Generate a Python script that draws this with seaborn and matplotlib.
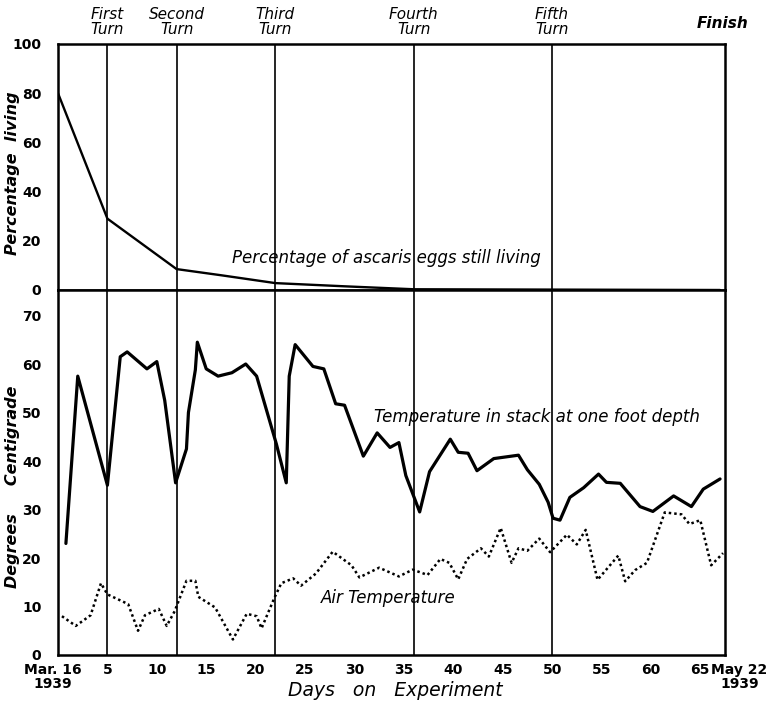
import matplotlib
matplotlib.use("Agg")
import matplotlib.pyplot as plt
import seaborn as sns
import numpy as np
import pandas as pd

# ---------------- data ----------------
pct_day = [0, 5, 12, 16.5, 22, 29, 36, 67]
pct_living = [80, 29, 8.5, 6, 2.8, 1.5, 0.3, 0]

stack_day = [0.8, 2.0, 5.0, 6.3, 7.0, 9.0, 10.0, 10.8, 11.9, 13.0, 13.2, 13.9, 14.1,
             15.0, 16.2, 17.6, 19.0, 20.1, 22.1, 23.1, 23.4, 24.0, 25.8, 26.9, 28.1,
             29.0, 30.9, 32.3, 33.6, 34.5, 35.2, 36.6, 37.6, 39.7, 40.5, 41.5, 42.4,
             44.1, 46.6, 47.5, 48.7, 49.6, 50.1, 50.8, 51.8, 53.2, 54.7, 55.5, 56.9,
             58.9, 60.2, 62.3, 64.1, 65.3, 67.0]
stack_temp = [23, 57.5, 35, 61.5, 62.5, 59, 60.5, 52.5, 35.5, 42.5, 50, 58.8, 64.5,
              59, 57.5, 58.2, 60, 57.5, 43.5, 35.5, 57.5, 64, 59.5, 59, 51.8,
              51.5, 41, 45.8, 42.8, 43.8, 37, 29.5, 37.8, 44.5, 41.8, 41.6, 38,
              40.5, 41.2, 38.2, 35.2, 31.5, 28.2, 27.8, 32.5, 34.5, 37.3, 35.6, 35.4,
              30.6, 29.6, 32.8, 30.6, 34.2, 36.3]

air_day = [0.4, 1.8, 3.3, 4.35, 5.0, 7.1, 8.1, 8.8, 10.2, 11.0, 11.8, 13.0, 13.9, 14.2,
           15.9, 17.7, 19.1, 20.1, 20.6, 21.9, 22.6, 23.8, 24.6, 26.1, 27.8, 29.7,
           30.5, 32.5, 34.5, 35.9, 37.4, 38.7, 39.6, 40.5, 41.4, 42.8, 43.6, 44.8,
           45.9, 46.6, 47.5, 48.7, 49.8, 51.5, 52.5, 53.4, 54.6, 56.7, 57.4, 58.4,
           59.6, 61.4, 63.1, 63.9, 65.0, 66.1, 67.3]
air_temp = [8, 6, 8.2, 14.8, 12.5, 10.5, 5, 8.2, 9.5, 6, 9, 15.3, 15.3, 12,
            9.8, 3.2, 8.5, 8, 5.5, 11.8, 14.8, 15.8, 14.3, 16.8, 21.3, 18.5,
            16, 18, 16.2, 17.6, 16.5, 19.8, 19, 15.6, 19.8, 22, 20.3, 26.2,
            19, 22, 21.5, 24, 21.2, 24.8, 22.8, 25.8, 15.5, 20.5, 15.2, 17.5,
            19, 29.4, 29, 27, 27.8, 18.5, 21]

turn_days = [5, 12, 22, 36, 50]
turn_labels = ["First\nTurn", "Second\nTurn", "Third\nTurn", "Fourth\nTurn", "Fifth\nTurn"]
x_ticks = [5, 10, 15, 20, 25, 30, 35, 40, 45, 50, 55, 60, 65]
pct_ticks = [0, 20, 40, 60, 80, 100]
temp_ticks = [0, 10, 20, 30, 40, 50, 60, 70]

# ---------------- style ----------------
sns.set_theme(style="white")
plt.rcParams["font.family"] = ["DejaVu Sans"]
plt.rcParams["axes.edgecolor"] = "black"
plt.rcParams["axes.linewidth"] = 1.8
plt.rcParams["text.color"] = "black"
plt.rcParams["axes.labelcolor"] = "black"
plt.rcParams["xtick.color"] = "black"
plt.rcParams["ytick.color"] = "black"

W, H = 769, 705
fig = plt.figure(figsize=(W / 100, H / 100), dpi=100)
L, R = 58 / W, 725 / W
y_top, y_mid, y_bot = 44, 290, 655
ax1 = fig.add_axes([L, 1 - y_mid / H, R - L, (y_mid - y_top) / H])
ax2 = fig.add_axes([L, 1 - y_bot / H, R - L, (y_bot - y_mid) / H], sharex=ax1)

XMAX = 67.5

# top panel
sns.lineplot(x=pct_day, y=pct_living, ax=ax1, color="black", linewidth=1.7,
             estimator=None, sort=False)
ax1.set_xlim(0, XMAX)
ax1.set_ylim(0, 100)
ax1.set_yticks(pct_ticks)
ax1.set_yticklabels([str(t) for t in pct_ticks], fontweight="bold", fontsize=10)
ax1.tick_params(axis="y", direction="in", length=7, width=1.5, pad=12)
ax1.tick_params(axis="x", bottom=False, labelbottom=False)
ax1.set_ylabel("Percentage  living", fontstyle="italic", fontweight="bold",
               fontsize=11.5)
ax1.yaxis.set_label_coords(-0.057, 0.476)
ax1.text(33.2, 13, "Percentage of ascaris eggs still living", fontstyle="italic",
         fontsize=12, ha="center", va="center")

# bottom panel
sns.lineplot(x=stack_day, y=stack_temp, ax=ax2, color="black", linewidth=2.3,
             estimator=None, sort=False)
sns.lineplot(x=air_day, y=air_temp, ax=ax2, color="black", linewidth=1.8,
             linestyle=(0, (1, 1.2)), estimator=None, sort=False)
ax2.set_ylim(0, 75.26)
ax2.set_yticks(temp_ticks)
ax2.set_yticklabels([str(t) for t in temp_ticks], fontweight="bold", fontsize=10)
ax2.set_xticks(x_ticks)
ax2.set_xticklabels([str(t) for t in x_ticks], fontweight="bold", fontsize=10)
ax2.tick_params(axis="y", direction="in", length=7, width=1.5, pad=12)
ax2.tick_params(axis="x", direction="in", length=7, width=1.5, pad=6)
ax2.set_ylabel("Degrees     Centigrade", fontstyle="italic", fontweight="bold",
               fontsize=11.5)
ax2.yaxis.set_label_coords(-0.057, 0.46)
ax2.set_xlabel("Days   on   Experiment", fontstyle="italic", fontsize=13.5)
ax2.xaxis.set_label_coords(0.505, -0.072)
ax2.text(48.5, 49, "Temperature in stack at one foot depth", fontstyle="italic",
         fontsize=12, ha="center", va="center")
ax2.text(33.4, 11.8, "Air Temperature", fontstyle="italic",
         fontsize=12, ha="center", va="center")

ax2.annotate("Mar. 16\n1939", xy=(0, 0), xycoords=("data", "axes fraction"),
             xytext=(-4, -6), textcoords="offset points", ha="center", va="top",
             fontsize=10, fontweight="bold", linespacing=0.95)
ax2.annotate("May 22\n1939", xy=(67, 0), xycoords=("data", "axes fraction"),
             xytext=(14, -6), textcoords="offset points", ha="center", va="top",
             fontsize=10, fontweight="bold", linespacing=0.95)

# turn lines
for ax in (ax1, ax2):
    for d in turn_days:
        ax.axvline(d, color="black", linewidth=1.2)
    for s in ax.spines.values():
        s.set_linewidth(1.8)
        s.set_color("black")

for d, lab in zip(turn_days, turn_labels):
    ax1.annotate(lab, xy=(d, 1), xycoords=("data", "axes fraction"),
                 xytext=(0, 5), textcoords="offset points", ha="center", va="bottom",
                 fontsize=11, fontstyle="italic", linespacing=1.0)
ax1.annotate("Finish", xy=(67, 1), xycoords=("data", "axes fraction"),
             xytext=(2, 9), textcoords="offset points", ha="center", va="bottom",
             fontsize=11, fontstyle="italic", fontweight="bold")

fig.savefig("out.png", dpi=100)
